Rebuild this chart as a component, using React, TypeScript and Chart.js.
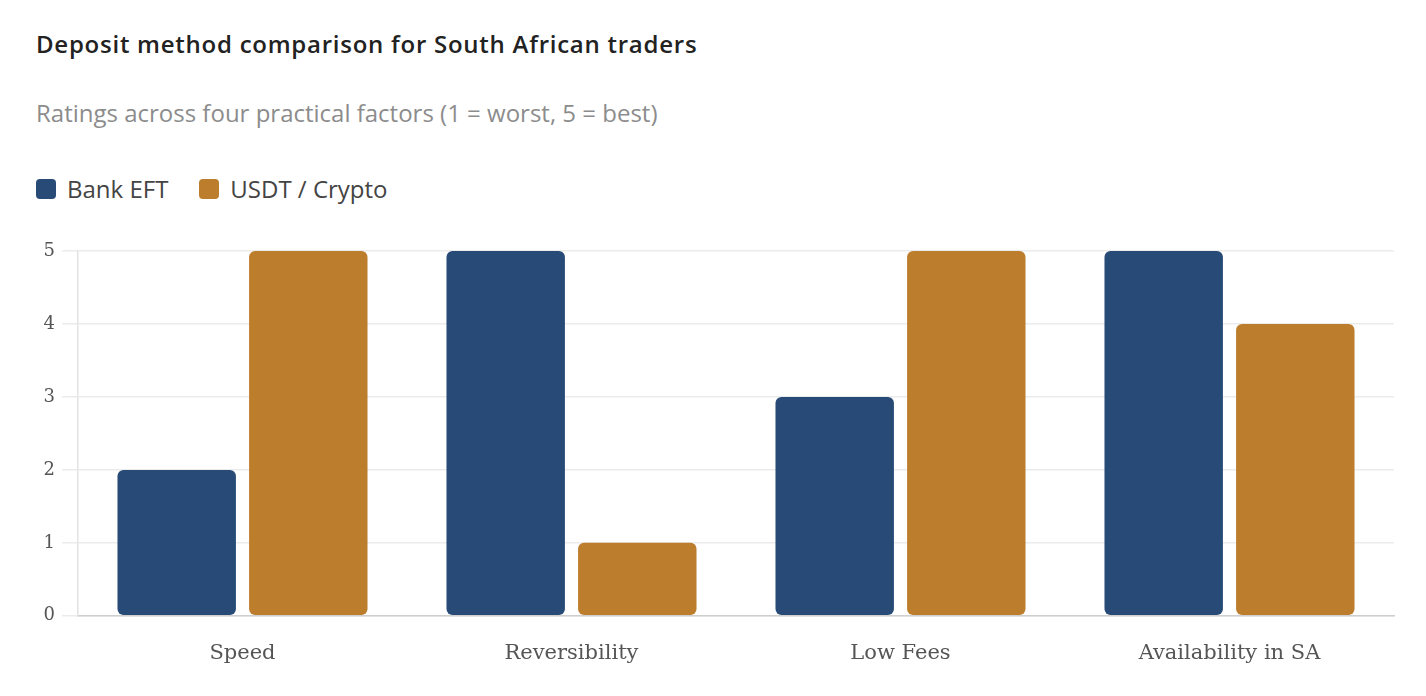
import React, { useEffect, useRef } from "react";
import { Chart, registerables } from "chart.js";

Chart.register(...registerables);

const categories = ["Speed", "Reversibility", "Low Fees", "Availability in SA"];
const bankEft = [2, 5, 3, 5];
const usdtCrypto = [5, 1, 5, 4];
const seriesNames = ["Bank EFT", "USDT / Crypto"];
const colors = ["#274b76", "#bc7e2d"];
const yTicks = [0, 1, 2, 3, 4, 5];

const SANS = "'Open Sans', 'Noto Sans', Arial, sans-serif";
const SERIF = "'DejaVu Serif', Georgia, serif";

export default function App() {
  const canvasRef = useRef<HTMLCanvasElement | null>(null);

  useEffect(() => {
    if (!canvasRef.current) return;
    const chart = new Chart(canvasRef.current, {
      type: "bar",
      data: {
        labels: categories,
        datasets: [
          {
            label: seriesNames[0],
            data: bankEft,
            backgroundColor: colors[0],
            borderRadius: 6,
            borderSkipped: false,
          },
          {
            label: seriesNames[1],
            data: usdtCrypto,
            backgroundColor: colors[1],
            borderRadius: 6,
            borderSkipped: false,
          },
        ],
      },
      options: {
        animation: false,
        responsive: true,
        maintainAspectRatio: false,
        layout: { padding: { left: 28, right: 24, top: 19, bottom: 0 } },
        plugins: {
          legend: { display: false },
          title: { display: false },
          tooltip: { enabled: false },
        },
        scales: {
          x: {
            grid: { display: false, drawTicks: false },
            border: { display: true, color: "#cfcfcf", width: 1.5 },
            ticks: {
              color: "#555555",
              font: { family: SERIF, size: 21 },
              padding: 25,
            },
          },
          y: {
            min: 0,
            max: 5,
            afterFit: (scale: any) => {
              scale.width = 42;
            },
            afterBuildTicks: (scale: any) => {
              scale.ticks = yTicks.map((v) => ({ value: v }));
            },
            grid: {
              color: "#ebebeb",
              lineWidth: 1.5,
              drawTicks: true,
              tickLength: 16,
            },
            border: { display: true, color: "#e3e3e3", width: 1.5 },
            ticks: {
              color: "#555555",
              font: { family: SERIF, size: 18 },
              padding: 7,
              stepSize: 1,
            },
          },
        },
      },
    });
    return () => chart.destroy();
  }, []);

  return (
    <div style={{ position: "relative", width: 1410, height: 680 }}>
      <div
        style={{
          position: "absolute",
          left: 28,
          top: 20,
          fontFamily: SANS,
          fontSize: 24,
          lineHeight: "32px",
          fontWeight: 600,
          letterSpacing: "0.75px",
          color: "#222222",
          whiteSpace: "nowrap",
        }}
      >
        Deposit method comparison for South African traders
      </div>
      <div
        style={{
          position: "absolute",
          left: 28,
          top: 89,
          fontFamily: SANS,
          fontSize: 24,
          lineHeight: "32px",
          color: "#8c8c8c",
          whiteSpace: "nowrap",
        }}
      >
        Ratings across four practical factors (1 = worst, 5 = best)
      </div>
      <div
        style={{
          position: "absolute",
          left: 28,
          top: 165,
          display: "flex",
          alignItems: "center",
          fontFamily: SANS,
          fontSize: 24,
          lineHeight: "32px",
          color: "#444444",
          whiteSpace: "nowrap",
        }}
      >
        {seriesNames.map((name, i) => (
          <div key={name} style={{ display: "flex", alignItems: "center", marginRight: 31 }}>
            <span
              style={{
                display: "inline-block",
                width: 20,
                height: 20,
                borderRadius: 4,
                background: colors[i],
                marginRight: 11,
              }}
            />
            <span>{name}</span>
          </div>
        ))}
      </div>
      <div style={{ position: "absolute", left: 0, top: 224, width: 1410, height: 459 }}>
        <canvas ref={canvasRef} />
      </div>
    </div>
  );
}
